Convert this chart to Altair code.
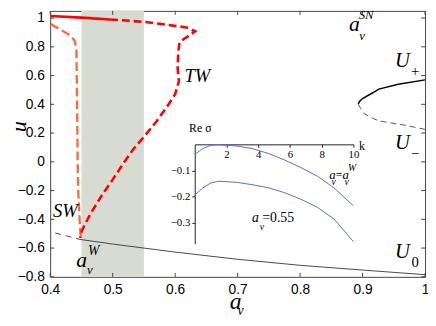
import altair as alt
import pandas as pd

# ---------------- data ----------------
# TW branch: solid part, then dashed part
tw_solid_a = [0.400, 0.450, 0.496]
tw_solid_u = [1.015, 1.003, 0.990]
tw_dash_a = [0.496, 0.550, 0.618, 0.632, 0.607, 0.605, 0.604, 0.606, 0.600, 0.586,
             0.571, 0.552, 0.534, 0.519, 0.500, 0.482, 0.466, 0.456, 0.451, 0.448]
tw_dash_u = [0.990, 0.974, 0.935, 0.908, 0.833, 0.765, 0.650, 0.560, 0.470, 0.377,
             0.286, 0.184, 0.093, 0.001, -0.124, -0.238, -0.351, -0.431, -0.477, -0.530]
# SW branch (dashed)
sw_a = [0.401, 0.419, 0.432, 0.439, 0.442, 0.443, 0.444, 0.445, 0.447, 0.449]
sw_u = [0.958, 0.913, 0.878, 0.844, 0.787, 0.423, -0.010, -0.215, -0.397, -0.534]
# U0 branch
u0_dash_a = [0.408, 0.448]
u0_dash_u = [-0.495, -0.540]
u0_a = [0.448, 0.500, 0.600, 0.700, 0.800, 0.900, 1.000]
u0_u = [-0.540, -0.572, -0.628, -0.678, -0.720, -0.753, -0.785]
# U+ (solid) and U- (dashed)
up_a = [0.893, 0.895, 0.900, 0.915, 0.926, 0.957, 1.000]
up_u = [0.400, 0.420, 0.440, 0.477, 0.506, 0.540, 0.570]
um_a = [0.893, 0.902, 0.915, 0.926, 0.967, 1.000]
um_u = [0.400, 0.337, 0.305, 0.285, 0.255, 0.226]
# shaded band
band_lo = [0.45]
band_hi = [0.55]
# inset: Re sigma vs k
k_vals = [0, 0.5, 1, 1.5, 2.6, 3.6, 4.65, 5.67, 6.7, 7.74, 8.77, 10]
sig_w = [-0.039, -0.016, -0.004, -0.001, -0.006, -0.016, -0.035, -0.060, -0.089, -0.122, -0.166, -0.235]
sig_055 = [-0.194, -0.167, -0.148, -0.141, -0.145, -0.154, -0.166, -0.185, -0.210, -0.241, -0.285, -0.372]
# ticks
x_ticks = [0.4, 0.5, 0.6, 0.7, 0.8, 0.9, 1.0]
y_ticks = [-0.8, -0.6, -0.4, -0.2, 0.0, 0.2, 0.4, 0.6, 0.8, 1.0]
k_ticks = [2, 4, 6, 8, 10]
s_ticks = [-0.1, -0.2, -0.3]

# annotations (main coordinates)
ann_it_t = ["TW", "SW", "a", "W", "v", "a", "SN", "v", "U", "U", "U", "a", "v"]
ann_it_a = [0.6356, 0.4243, 0.4503, 0.4696, 0.4633, 0.8869, 0.9057, 0.8990, 0.9639, 0.9639, 0.9639, 0.6968, 0.7047]
ann_it_u = [0.594, -0.346, -0.684, -0.619, -0.752, 0.958, 1.024, 0.872, 0.699, 0.133, -0.627, -0.975, -1.035]
ann_it_s = [19, 19, 22, 14, 13, 22, 13, 13, 21, 21, 21, 24, 14]
ann_up_t = ["+", "\u2212", "0"]
ann_up_a = [0.9843, 0.9843, 0.9843]
ann_up_u = [0.631, 0.061, -0.697]
ann_up_s = [15, 15, 15]
ylab_t = ["u"]
ylab_a = [0.3505]
ylab_u = [0.245]
# annotations (inset coordinates)
in_it_t = ["a", "a", "W", "v", "v", "a", "v"]
in_it_k = [8.67, 9.51, 9.91, 8.76, 9.58, 3.82, 4.23]
in_it_s = [-0.116, -0.116, -0.090, -0.146, -0.146, -0.281, -0.316]
in_it_z = [13, 13, 10, 10, 10, 14, 10]
in_up_t = ["Re \u03c3", "k", "=", "=0.55"]
in_up_k = [0.35, 10.54, 9.10, 5.26]
in_up_s = [0.062, -0.006, -0.116, -0.281]
in_up_z = [12, 12, 12, 14]

# ---------------- layout ----------------
W, H = 382, 271
INSET_X0, INSET_X1 = 147.3, 309.0
INSET_Y0, INSET_Y1 = 237.3, 136.0
FRAME = "#444444"

xaxis = alt.Axis(values=x_ticks, format="~g", title=None, grid=False, domain=False,
                 ticks=False, tickSize=0, labelFont="Liberation Sans", labelFontSize=14,
                 labelColor="#000", labelPadding=6, labelFlush=False, labelOverlap=False)
yaxis = alt.Axis(values=y_ticks, format="~g", title=None, grid=False, domain=False,
                 ticks=False, tickSize=0, labelFont="Liberation Sans", labelFontSize=14,
                 labelColor="#000", labelPadding=6, labelFlush=False, labelOverlap=False)


def X():
    return alt.X("a:Q", scale=alt.Scale(domain=[0.4, 1.0], nice=False, zero=False), axis=xaxis)


def Y():
    return alt.Y("u:Q", scale=alt.Scale(domain=[-0.8, 1.05], nice=False, zero=False), axis=yaxis)


def line_df(a, u):
    return pd.DataFrame({"a": a, "u": u, "i": list(range(len(a)))})


def line(a, u, color, width, dash=None):
    kw = dict(color=color, strokeWidth=width, clip=True)
    if dash:
        kw["strokeDash"] = dash
    return alt.Chart(line_df(a, u)).mark_line(**kw).encode(x=X(), y=Y(), order="i:Q")


band = alt.Chart(pd.DataFrame({"a": band_lo, "a2": band_hi})).mark_rect(color="#d8dbd2").encode(
    x=X(), x2="a2:Q", y=alt.value(0), y2=alt.value(H))

tw_s = line(tw_solid_a, tw_solid_u, "#ff0000", 2.6)
tw_d = line(tw_dash_a, tw_dash_u, "#ff0000", 2.6, [8, 4])
sw = line(sw_a, sw_u, "#ff6a45", 2.4, [9, 4])
u0d = line(u0_dash_a, u0_dash_u, "#333333", 0.9, [6, 5])
u0 = line(u0_a, u0_u, "#333333", 0.9)
upl = line(up_a, up_u, "#000000", 1.5)
uml = line(um_a, um_u, "#444444", 0.9, [6, 4])

xt = pd.DataFrame({"a": x_ticks})
yt = pd.DataFrame({"u": y_ticks})
tick_b = alt.Chart(xt).mark_rule(color=FRAME).encode(x=X(), y=alt.value(H), y2=alt.value(H - 4))
tick_t = alt.Chart(xt).mark_rule(color=FRAME).encode(x=X(), y=alt.value(0), y2=alt.value(4))
tick_l = alt.Chart(yt).mark_rule(color=FRAME).encode(y=Y(), x=alt.value(0), x2=alt.value(4))
tick_r = alt.Chart(yt).mark_rule(color=FRAME).encode(y=Y(), x=alt.value(W), x2=alt.value(W - 4))


def texts(t, a, u, s, style, font="Liberation Serif", angle=0):
    df = pd.DataFrame({"t": t, "a": a, "u": u, "s": s})
    return alt.Chart(df).mark_text(font=font, fontStyle=style, align="center", baseline="middle",
                                   color="#000", angle=angle).encode(
        x=X(), y=Y(), text="t:N", size=alt.Size("s:Q", scale=None, legend=None))


ann_it = texts(ann_it_t, ann_it_a, ann_it_u, ann_it_s, "italic")
ann_up = texts(ann_up_t, ann_up_a, ann_up_u, ann_up_s, "normal")
ylab = texts(ylab_t, ylab_a, ylab_u, [22], "italic", angle=270)

main = alt.layer(band, u0d, u0, upl, uml, sw, tw_d, tw_s, tick_b, tick_t, tick_l, tick_r,
                 ann_it, ann_up, ylab)

# ---------------- inset ----------------
kaxis = alt.Axis(values=k_ticks, orient="bottom", offset=-(H - INSET_Y1), title=None, grid=False,
                 domainColor="#222", tickColor="#222", tickSize=3, labelPadding=1,
                 labelFont="Liberation Serif", labelFontSize=11, labelColor="#000",
                 labelFlush=False, labelOverlap=False)
saxis = alt.Axis(values=s_ticks, orient="left", offset=-INSET_X0, title=None, grid=False,
                 domainColor="#222", tickColor="#222", tickSize=3, labelPadding=2,
                 labelFont="Liberation Serif", labelFontSize=11, labelColor="#000",
                 labelFlush=False, labelOverlap=False)


def KX():
    return alt.X("k:Q", scale=alt.Scale(domain=[0, 10], range=[INSET_X0, INSET_X1], nice=False, zero=False),
                 axis=kaxis)


def SY():
    return alt.Y("s:Q", scale=alt.Scale(domain=[-0.38, 0], range=[INSET_Y0, INSET_Y1], nice=False, zero=False),
                 axis=saxis)


inset_df = pd.DataFrame({"k": k_vals * 2, "s": sig_w + sig_055,
                         "c": ["w"] * len(k_vals) + ["p55"] * len(k_vals),
                         "i": list(range(len(k_vals))) * 2})
curves = alt.Chart(inset_df).mark_line(color="#6464dc", strokeWidth=1).encode(
    x=KX(), y=SY(), detail="c:N", order="i:Q")


def itexts(t, k, s, z, style):
    df = pd.DataFrame({"t": t, "k": k, "s": s, "z": z})
    return alt.Chart(df).mark_text(font="Liberation Serif", fontStyle=style, align="center",
                                   baseline="middle", color="#000").encode(
        x=KX(), y=SY(), text="t:N", size=alt.Size("z:Q", scale=None, legend=None))


inset = alt.layer(curves, itexts(in_it_t, in_it_k, in_it_s, in_it_z, "italic"),
                  itexts(in_up_t, in_up_k, in_up_s, in_up_z, "normal"))

chart = alt.layer(main, inset).resolve_scale(x="independent", y="independent").properties(
    width=W, height=H,
    autosize=alt.AutoSizeParams(type="none"),
    padding={"left": 43, "top": 0, "right": 3, "bottom": 38},
    background="white",
).configure_view(stroke=FRAME, strokeWidth=1)

chart.save("out.html", embed_options={"renderer": "svg", "actions": False})
